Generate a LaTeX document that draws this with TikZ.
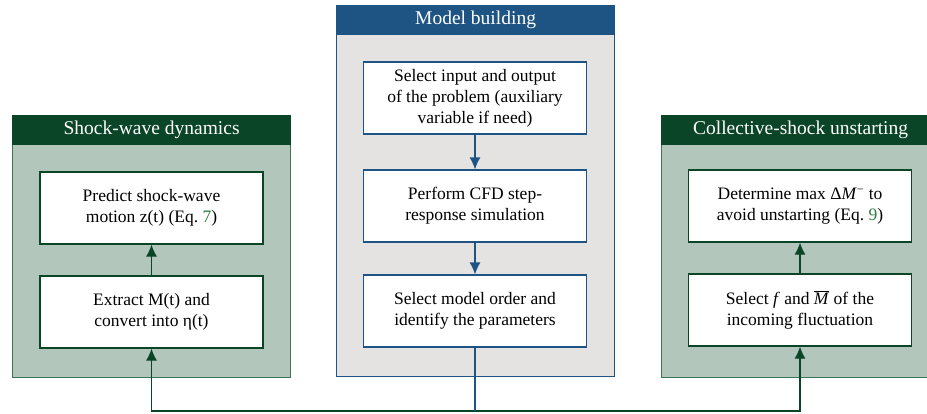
\documentclass[tikz,border=0pt]{standalone}
\usepackage{fontspec}
\setmainfont{Liberation Serif}
\usetikzlibrary{arrows.meta}
\definecolor{shockdark}{HTML}{0B4527}
\definecolor{shockfill}{HTML}{B3C6BC}
\definecolor{shockline}{HTML}{3E7458}
\definecolor{modeldark}{HTML}{1D5483}
\definecolor{modelfill}{HTML}{E4E3E2}
\definecolor{eqgreen}{HTML}{2B7A3F}
\newcommand{\eqnum}[1]{\textcolor{eqgreen}{#1}}
\newcommand{\itM}{\textit{M}}
\tikzset{
  panel/.style={line width=1.2pt, minimum width=278pt, inner sep=0pt, anchor=north west},
  header/.style={line width=1.2pt, minimum width=278pt, minimum height=29pt, inner sep=0pt,
    anchor=north west, text=white, font=\fontsize{19.5}{23}\selectfont},
  stepbox/.style={draw, fill=white, line width=1.2pt, minimum width=223pt, minimum height=72pt,
    inner sep=0pt, align=center, font=\fontsize{17.5}{21}\selectfont},
  flowgreen/.style={draw=shockdark, line width=1.2pt, -{Latex[length=12pt,width=11pt]}},
  flowblue/.style={draw=modeldark, line width=1.2pt, -{Latex[length=12pt,width=11pt]}}
}

\begin{document}
\begin{tikzpicture}[x=1pt,y=1pt]
    \useasboundingbox (0,0) rectangle (927,-413);

    % panels
    \node[panel, draw=shockline, fill=shockfill, minimum height=262pt] (sdpanel) at (12,-115) {};
    \node[header, draw=shockdark, fill=shockdark] (sdhead) at (sdpanel.north west) {Shock-wave dynamics};

    \node[panel, draw=modeldark, fill=modelfill, minimum height=371pt] (mbpanel) at (336,-5) {};
    \node[header, draw=modeldark, fill=modeldark] (mbhead) at (mbpanel.north west) {Model building};

    \node[panel, draw=shockline, fill=shockfill, minimum height=262pt] (cupanel) at (661,-115) {};
    \node[header, draw=shockdark, fill=shockdark] (cuhead) at (cupanel.north west) {Collective-shock unstarting};

    % steps
    \node[stepbox, draw=shockdark] (sd1) at (151.5,-208) {Predict shock-wave\\motion z(t) (Eq.~\eqnum{7})};
    \node[stepbox, draw=shockdark] (sd2) at (151.5,-312) {Extract M(t) and\\convert into η(t)};

    \node[stepbox, draw=modeldark] (mb1) at (475,-98) {Select input and output\\of the problem (auxiliary\\variable if need)};
    \node[stepbox, draw=modeldark] (mb2) at (475,-206) {Perform CFD step-\\response simulation};
    \node[stepbox, draw=modeldark] (mb3) at (475,-311) {Select model order and\\identify the parameters};

    \node[stepbox, draw=shockdark] (cu1) at (800,-206) {Determine max Δ\itM\textsuperscript{−} to\\avoid unstarting (Eq.~\eqnum{9})};
    \node[stepbox, draw=shockdark] (cu2) at (800,-310) {Select \textit{f} and $\overline{\hbox{\itM}}$ of the\\incoming fluctuation};

    \coordinate (join) at (475,-411);

    % connectors
    \draw[flowblue] (mb1) -- (mb2);
    \draw[flowblue] (mb2) -- (mb3);
    \draw[flowgreen] (sd2) -- (sd1);
    \draw[flowgreen] (cu2) -- (cu1);

    \draw[flowgreen] (join) -| (sd2);
    \draw[flowgreen] (join) -| (cu2);
    \draw[draw=modeldark, line width=1.2pt] (mb3) -- (join);
\end{tikzpicture}
\end{document}
